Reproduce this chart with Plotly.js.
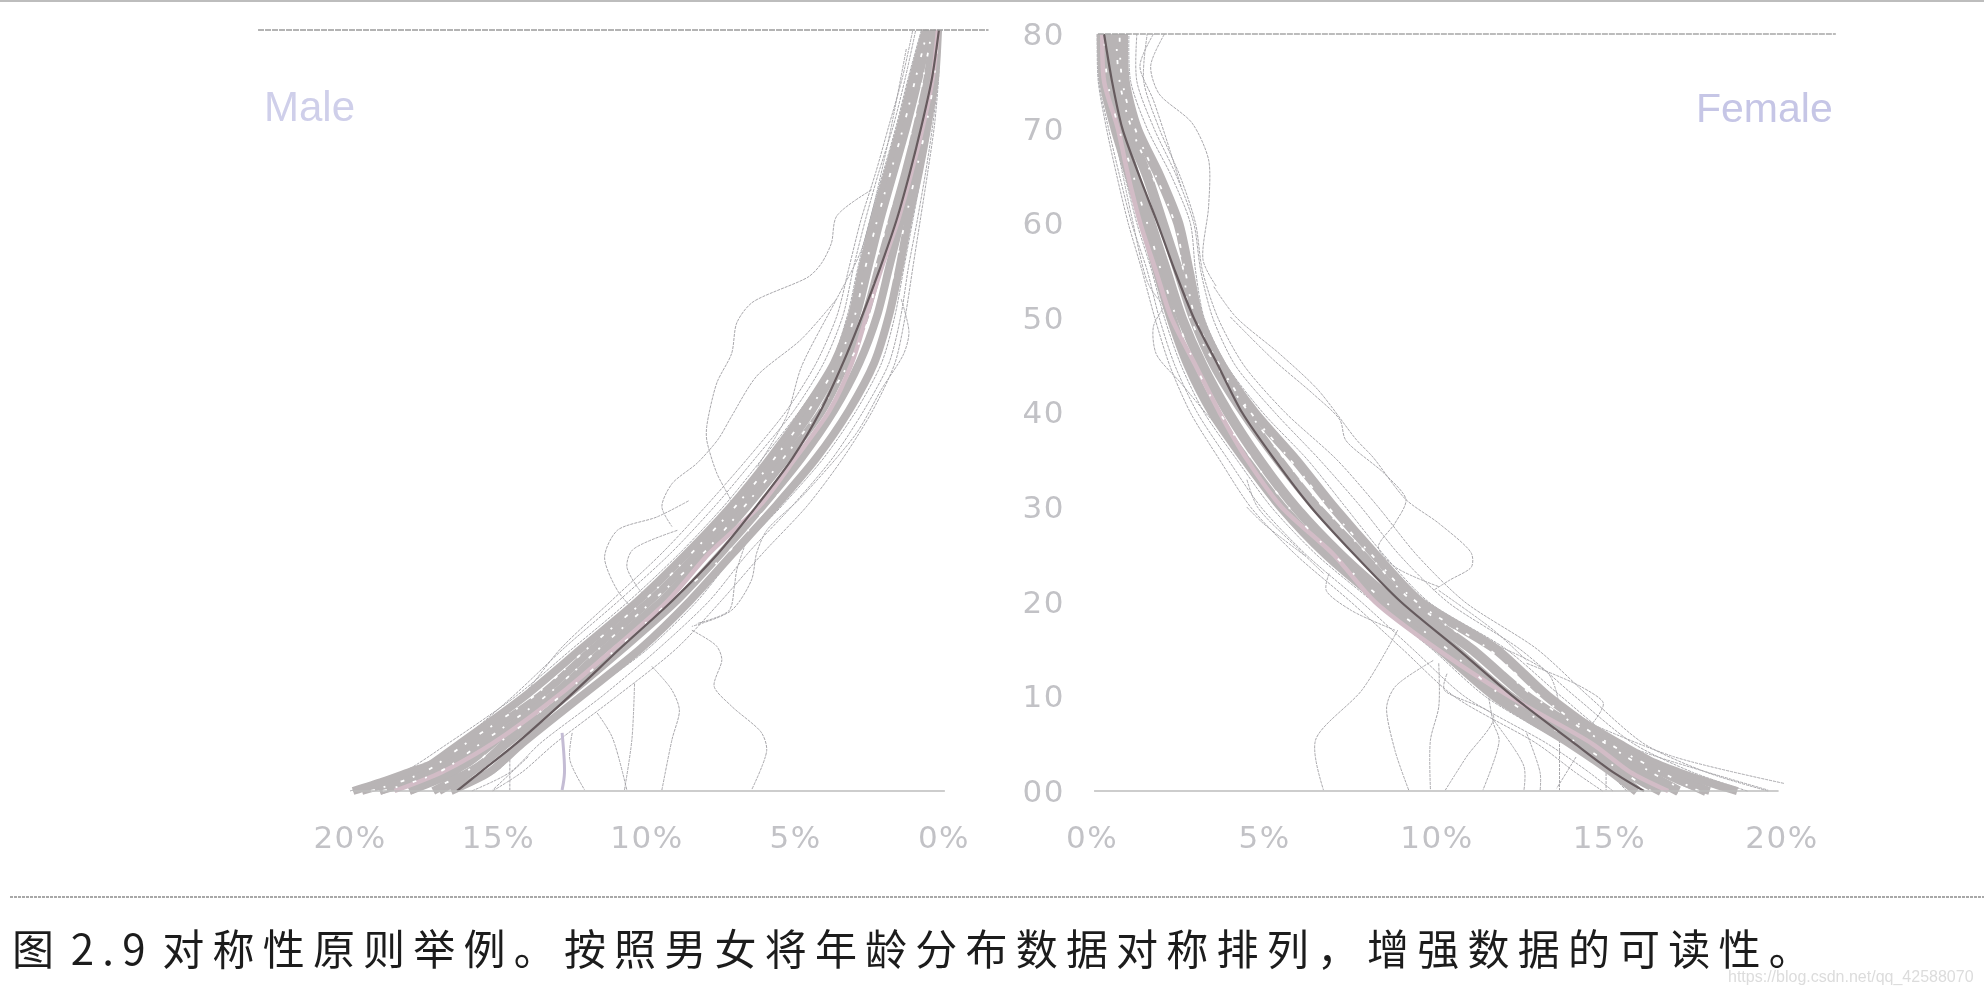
<!DOCTYPE html>
<html>
<head>
<meta charset="utf-8">
<script src="https://cdn.plot.ly/plotly-3.0.1.min.js"></script>
<style>
html,body{margin:0;padding:0;background:#fff;overflow:hidden}
#chart{width:1984px;height:994px;filter:blur(0.6px)}
#chart .xtick text,#chart .x2tick text,#chart .y2tick text{letter-spacing:1.5px}
#chart g.annotation[data-index="2"] text{letter-spacing:8.2px;word-spacing:-9px}
</style>
</head>
<body>
<div id="chart"></div>
<script>
// ---------- shared tick text ----------
const X_TICK_VALUES = [0,5,10,15,20];
const X_TICK_LABELS = ['0%','5%','10%','15%','20%'];
const AGE_TICK_VALUES = [0,10,20,30,40,50,60,70,80];
const AGE_TICK_LABELS = ['00','10','20','30','40','50','60','70','80'];
const CAPTION = '图 2.9 对称性原则举例。按照男女将年龄分布数据对称排列，增强数据的可读性。';
const WATERMARK = 'https://blog.csdn.net/qq_42588070';

// ---------- age grid for the dense band ----------
const AGES = [0,2,5,10,15,20,25,30,35,40,45,50,55,60,65,70,75,80];
const TAIL_AGES = [0,1,2,3,5,8];

// ---------- male ----------
const M_CENTER = [16.4,15.6,14.4,12.6,10.9,9.15,7.6,6.3,5.1,4.15,3.4,2.75,2.15,1.6,1.15,.75,.4,.17];
const M_LEFT   = [20,18.2,16.7,14.4,12.5,10.6,8.9,7.4,6.1,4.85,3.8,3.25,2.9,2.5,2.05,1.6,1.2,.76];
const M_RIGHT  = [16.4,15.1,14.1,12.1,9.95,8.3,7,5.45,4.05,2.95,2.1,1.65,1.35,1.05,.75,.45,.27,.18];
const M_FR1 = [19.3,17.9,16.4,14.5,12.8,10.95,9.2,7.7,6.35,5.05,4.05,3.4,3.05,2.65,2.2,1.7,1.3,.95];
const M_FR2 = [15.9,14.6,13.6,11.5,9.6,7.9,6.6,5.1,3.75,2.7,1.85,1.45,1.2,.9,.62,.38,.2,.15];
const M_FR3 = [15.2,14.2,13.1,11,9,7.5,6.1,4.6,3.4,2.4,1.65,1.3,1.05,.8,.55,.32,.18,.12];
const M_FR4 = [18.6,17.2,16,14.2,12.9,11.2,9.5,8,6.6,5.3,4.3,3.6,3.2,2.8,2.3,1.85,1.4,1.05];
const M_BAND_A = [19.6,17.7,16.3,14.1,12.2,10.3,8.65,7.15,5.85,4.7,3.7,3.1,2.75,2.35,1.9,1.45,1.05,.62];
const M_BAND_B = [19,17.2,15.9,13.6,11.8,9.9,8.3,6.9,5.6,4.45,3.55,2.95,2.55,2.15,1.7,1.25,.85,.5];
const M_BAND_C = [18,16.5,15.4,13.2,11.4,9.5,8,6.6,5.3,4.1,3.3,2.65,2.2,1.75,1.3,.9,.55,.35];
const M_BAND_D = [17,15.9,14.7,12.7,10.8,9,7.5,6.1,4.8,3.7,2.85,2.25,1.85,1.45,1.05,.7,.4,.22];
const M_BAND_E = [16.6,15.3,14.2,12.2,10.2,8.55,7.1,5.65,4.3,3.2,2.35,1.85,1.5,1.2,.85,.55,.3,.2];
const M_PINK   = [18.5,16.9,15.2,13,11.1,9.3,7.9,6.2,5,3.85,3.1,2.6,2.1,1.55,1.1,.7,.38,.2];
const M_SPECK  = [18.9,17,15.6,13.4,11.6,9.8,8.1,6.7,5.4,4.2,3.2,2.5,2.3,1.9,1.5,1.05,.7,.4];
const M_SPECK2 = [17.4,16.1,15,12.9,11,9.2,7.3,5.9,4.55,3.45,2.6,2.05,1.65,1.3,.95,.6,.33,.2];
const M_SPECK3 = [19.3,17.5,16.1,13.8,12,10.1,8.5,7,5.7,4.55,3.6,3,2.65,2.25,1.8,1.35,.95,.55];
const M_TAIL_1 = [19.9,18.9,18,17.1,16.1,14.9];
const M_TAIL_2 = [19,18.2,17.3,16.6,15.7,14.6];
const M_TAIL_3 = [18,17.3,16.6,16,15.2,14.1];
const M_TAIL_4 = [17.2,16.6,16,15.5,14.8,13.7];

const M_O1_X = [2.44,3.62,3.79,4.12,4.54,6.48,6.98,7.15,7.65,7.99,7.99,7.65,7.23,6.8];
const M_O1_Y = [63.2,60.4,57.6,55.5,54.1,51.3,49.2,46,42.9,38.3,36.9,33.4,30.9,28.1];
const M_O2_X = [3.62,4.8,6.31,7.15,7.6,8.3,9.16,9.5,9.16];
const M_O2_Y = [51.7,47.5,43.6,39.4,37,34.5,32.3,29.9,27.8];
const M_O3_X = [8.6,9.67,11,11.43,11,10.34];
const M_O3_Y = [30.5,28.8,27.4,24.6,21.1,18.7];
const M_O4_X = [8.98,10.5,10.68,10.34,9.84];
const M_O4_Y = [27.4,25.3,23.6,21.5,19.7];
const M_O5_X = [1.44,1.18,1.35,2.11,2.95,4.8,5.97,6.31,6.48,7.15,8.49];
const M_O5_Y = [51.7,48.2,46,42.2,37.6,30.9,27.4,25,22.2,19,17.3];
const M_O6_X = [6.64,6.98,7.06,7.23,8.32];
const M_O6_Y = [26.4,23.2,21.5,19,17.6];
const M_O7_X = [8.49,7.65,7.48,7.74,7.15,6.14,5.97,6.48];
const M_O7_Y = [16.9,15.2,13.8,11,8.9,6.1,4.3,.1];
const M_O8_X = [9.84,9.16,8.91,9.16,9.5];
const M_O8_Y = [13.1,10.6,8.5,5.4,.1];
const M_O9_X = [10.42,10.51,10.76];
const M_O9_Y = [11.3,5.4,.1];
const M_O10_X = [11.68,11.18,10.68];
const M_O10_Y = [8.2,5.7,.1];
const M_O11_X = [12.86,12.78,12.86];
const M_O11_Y = [6.1,1.9,.1];
const M_O12_X = [12.52,12.6,12.1];
const M_O12_Y = [6.1,3.3,.1];
const M_O13_X = [14.62,14.62];
const M_O13_Y = [3.3,.1];
const M_O14_X = [14,15.2];
const M_O14_Y = [3.6,.1];
const M_O15_X = [1.27,1.94,2.78,3.62,4.8,5.3,6.3];
const M_O15_Y = [78,67.4,56.9,51.7,44.6,39.4,34];

// ---------- female ----------
const F_CENTER = [16,15.1,14,12.2,10.6,8.95,7.6,6.35,5.3,4.35,3.65,2.95,2.4,1.9,1.37,.88,.58,.35];
const F_LEFT   = [15.5,14.95,13.7,11.4,9.85,8.15,6.5,5.2,4.2,3.25,2.58,2.1,1.73,1.3,.95,.58,.25,.2];
const F_RIGHT  = [18.5,17,15.3,13.6,12,9.75,8.45,7.35,6.25,4.95,3.9,3.25,3,2.85,2.3,1.6,1.12,1.07];
const F_FR1 = [15.1,14.4,13.2,10.8,9.3,7.8,6.2,4.9,3.95,3.05,2.4,1.95,1.6,1.15,.8,.48,.2,.18];
const F_FR2 = [19,17.4,15.7,14,12.4,10.3,8.9,7.8,6.6,5.3,4.15,3.5,3.15,2.95,2.45,1.8,1.3,1.3];
const F_FR3 = [19.6,17.8,16,14.4,12.9,10.8,9.4,8.3,7.1,5.6,4.4,3.65,3.2,3,2.55,1.95,1.5,1.6];
const F_FR4 = [14.8,14,12.9,10.5,9,7.5,5.9,4.6,3.7,2.85,2.25,1.82,1.45,1.05,.72,.42,.18,.15];
const F_BAND_A = [15.8,15.1,13.9,11.7,10.1,8.4,6.8,5.5,4.45,3.5,2.8,2.3,1.9,1.5,1.1,.68,.35,.28];
const F_BAND_B = [16.5,15.5,14.3,12.1,10.5,8.75,7.2,5.9,4.85,3.95,3.2,2.6,2.15,1.7,1.25,.82,.5,.4];
const F_BAND_C = [17,16,14.7,12.6,11,9.1,7.8,6.5,5.4,4.4,3.55,2.95,2.5,2.05,1.6,1.05,.75,.65];
const F_BAND_D = [17.8,16.6,15.1,13.2,11.7,9.5,8.2,7,5.9,4.7,3.75,3.1,2.8,2.5,1.95,1.3,.95,.9];
const F_PINK   = [16.7,15.6,14.5,12.1,10,8.2,7,5.5,4.5,3.7,3,2.3,1.85,1.4,1.05,.75,.35,.3];
const F_SPECK  = [17.2,16.2,14.9,12.8,11.3,9.3,8,6.7,5.6,4.55,3.6,2.85,2.65,2.3,1.75,1.15,.8,.7];
const F_SPECK2 = [16.2,15.4,14.1,11.9,10.3,8.5,7,5.7,4.65,3.7,3,2.45,2,1.6,1.2,.78,.45,.35];
const F_SPECK3 = [17.6,16.5,15,13,11.5,9.4,8.1,6.85,5.75,4.6,3.7,3,2.7,2.4,1.85,1.25,.88,.8];
const F_TAIL_1 = [18.7,17.8,17,16.3,15.3,13.9];
const F_TAIL_2 = [17.9,17.1,16.5,15.8,15,13.7];
const F_TAIL_3 = [17,16.4,15.9,15.4,14.6,13.5];

const F_R1_X = [2.1,1.7,1.94,2.9,3.38,3.38,3.22,3.61];
const F_R1_Y = [80,76.6,73.7,70.6,66.7,61.8,56.1,53.3];
const F_R2_X = [1.78,1.39,1.78,2.26,2.58];
const F_R2_Y = [80,76.6,73,67.7,63.9];
const F_R3_X = [3.53,4.17,5.44,6.55,7.67,8.14,9.1,10.05,11,11,10.37,9.89];
const F_R3_Y = [53.3,50.1,46.2,42.4,37.1,35.3,30.8,28.3,25.1,23.7,22.3,21.2];
const F_R4_X = [4.01,5.28,6.4,7.19,7.35,8.46,9.1,8.78,8.3,8.78,10.05];
const F_R4_Y = [50.1,45.5,42,39.2,37.1,33.6,30.8,28.3,25.8,23.7,21.6];
const F_R5_X = [2.1,1.78,1.86,2.58,3.38,4.01];
const F_R5_Y = [51.2,49.1,46.2,43.1,39.6,37.1];
const F_R6_X = [4.49,4.8,5.92,6.71];
const F_R6_Y = [32.9,30,25.8,23];
const F_R7_X = [6.87,6.79,7.51,8.78];
const F_R7_Y = [23,21.2,19.1,17];
const F_R8_X = [8.86,7.83,6.48,6.71];
const F_R8_Y = [17,10.7,5.4,.1];
const F_R9_X = [9.89,8.78,8.54,8.78,9.18];
const F_R9_Y = [13.8,11,8.9,4.3,.1];
const F_R10_X = [10.05,10.05,9.81,9.81];
const F_R10_Y = [13.5,8.9,5.4,.1];
const F_R11_X = [10.29,10.21,11.64,10.85,10.24];
const F_R11_Y = [12.4,10.7,7.9,3.6,.1];
const F_R12_X = [11.48,11.64,11.8,11.33];
const F_R12_Y = [10.3,7.1,5.4,.1];
const F_R13_X = [11.64,12.52,12.52];
const F_R13_Y = [7.5,2.6,.1];
const F_R14_X = [12.6,12.99,12.99];
const F_R14_Y = [6.1,1.9,.1];
const F_R15_X = [13.55,13.55];
const F_R15_Y = [5.4,.1];
const F_R16_X = [14.03,13.47];
const F_R16_Y = [3.6,.3];
const F_R17_X = [14.9,14.9];
const F_R17_Y = [1.9,.1];
const F_R18_X = [12.6,14.19,14.82,14.58,14.19];
const F_R18_Y = [13.5,11,9.3,7.5,6.1];
const F_R19_X = [14.66,16.89,20.07];
const F_R19_Y = [6.8,3.6,.8];
const F_R20_X = [14.5,16.4,19.6];
const F_R20_Y = [6.1,3.6,.1];
const F_R21_X = [11.33,13.23,13.55];
const F_R21_Y = [16,12.4,8.9];
const F_R22_X = [10.05,11.64,12.6];
const F_R22_Y = [21.2,17,13.8];
const F_R23_X = [.75,1.15,1.63,2.1];
const F_R23_Y = [67.7,60.7,53.6,51.2];
const F_R24_X = [4.49,4.96,6.2];
const F_R24_Y = [30,28.3,24.8];

// ---------- rules ----------
const M_TOP_RULE = [23.1,-1.5], M_BASE_RULE = [19.9,-0.03];
const F_TOP_RULE = [0.17,21.56], F_BASE_RULE = [0.06,19.9];
const AGE_TOP = 80, AGE_BASE = 0;

// ---------- styles and helpers ----------
const THIN = {color:'#a9a8ac',width:1,dash:'3px,1px',shape:'spline',smoothing:0.8};
const line = (x,y,xa,ya,style) => ({type:'scatter',mode:'lines',x,y,xaxis:xa,yaxis:ya,line:style,hoverinfo:'skip',showlegend:false});
const thick = (w,c) => ({color:c||'#b8b4b5',width:w,shape:'spline',smoothing:0.8});

const traces = [];
function side(xa,ya,bandWidth,outliers,edges,bands,tails,pink,specks,center){
  outliers.forEach(o => traces.push(line(o[0],o[1],xa,ya,THIN)));
  edges.forEach(e => traces.push(line(e,AGES,xa,ya,THIN)));
  bands.forEach(b => traces.push(line(b,AGES,xa,ya,thick(bandWidth))));
  tails.forEach(t => traces.push(line(t,TAIL_AGES,xa,ya,thick(8))));
  traces.push(line(pink,AGES,xa,ya,thick(4.5,'#d2bcc6')));
  specks.forEach((s,i) => traces.push(line(s,AGES,xa,ya,{color:'#ffffff',width:1.8,dash:i===1?'2px,17px,4px,23px':'4px,9px,2px,16px',shape:'spline'})));
  traces.push(line(center,AGES,xa,ya,thick(2.2,'#665b5e')));
}
side('x','y',8,[
  [M_O1_X,M_O1_Y],[M_O2_X,M_O2_Y],[M_O3_X,M_O3_Y],[M_O4_X,M_O4_Y],[M_O5_X,M_O5_Y],
  [M_O6_X,M_O6_Y],[M_O7_X,M_O7_Y],[M_O8_X,M_O8_Y],[M_O9_X,M_O9_Y],[M_O10_X,M_O10_Y],
  [M_O12_X,M_O12_Y],[M_O13_X,M_O13_Y],[M_O14_X,M_O14_Y],[M_O15_X,M_O15_Y]
],[M_LEFT,M_RIGHT,M_FR1,M_FR2,M_FR3,M_FR4],[M_BAND_A,M_BAND_B,M_BAND_C,M_BAND_D,M_BAND_E],[M_TAIL_1,M_TAIL_2,M_TAIL_3,M_TAIL_4],M_PINK,[M_SPECK,M_SPECK2,M_SPECK3],M_CENTER);
traces.push(line(M_O11_X,M_O11_Y,'x','y',{color:'#c4bcd4',width:3,shape:'spline'}));
side('x2','y2',10,[
  [F_R1_X,F_R1_Y],[F_R2_X,F_R2_Y],[F_R3_X,F_R3_Y],[F_R4_X,F_R4_Y],[F_R5_X,F_R5_Y],[F_R6_X,F_R6_Y],
  [F_R7_X,F_R7_Y],[F_R8_X,F_R8_Y],[F_R9_X,F_R9_Y],[F_R10_X,F_R10_Y],[F_R11_X,F_R11_Y],[F_R12_X,F_R12_Y],
  [F_R13_X,F_R13_Y],[F_R14_X,F_R14_Y],[F_R15_X,F_R15_Y],[F_R16_X,F_R16_Y],[F_R17_X,F_R17_Y],[F_R18_X,F_R18_Y],
  [F_R19_X,F_R19_Y],[F_R20_X,F_R20_Y],[F_R21_X,F_R21_Y],[F_R22_X,F_R22_Y],[F_R23_X,F_R23_Y],[F_R24_X,F_R24_Y]
],[F_LEFT,F_RIGHT,F_FR1,F_FR2,F_FR3,F_FR4],[F_BAND_A,F_BAND_B,F_BAND_C,F_BAND_D],[F_TAIL_1,F_TAIL_2,F_TAIL_3],F_PINK,[F_SPECK,F_SPECK2,F_SPECK3],F_CENTER);

const W = 1984, H = 994;
const tickFont = {family:'"DejaVu Sans",sans-serif',size:31,color:'#c2c2c6'};
const xBase = {showgrid:false,zeroline:false,showline:false,ticks:'',tickmode:'array',tickvals:X_TICK_VALUES,ticktext:X_TICK_LABELS,tickfont:tickFont,ticklabelstandoff:6,fixedrange:true};
const yDomain = [(H-810)/H,(H-10)/H];

const layout = {
  width:W,height:H,margin:{l:0,r:0,t:0,b:0,pad:0},
  paper_bgcolor:'#ffffff',plot_bgcolor:'rgba(0,0,0,0)',showlegend:false,
  xaxis:Object.assign({},xBase,{domain:[250/W,1000/W],range:[23.37,-1.886],anchor:'y'}),
  yaxis:{domain:yDomain,range:[-2,82.1],visible:false,fixedrange:true,anchor:'x'},
  xaxis2:Object.assign({},xBase,{domain:[1080/W,1850/W],range:[-0.348,21.97],anchor:'y2'}),
  yaxis2:{domain:yDomain,range:[-2,82.54],anchor:'x2',showgrid:false,zeroline:false,showline:false,ticks:'',
          tickmode:'array',tickvals:AGE_TICK_VALUES,ticktext:AGE_TICK_LABELS,tickfont:tickFont,ticklabelstandoff:14,fixedrange:true},
  shapes:[
    {type:'line',xref:'paper',yref:'paper',x0:0,x1:1,y0:(H-1)/H,y1:(H-1)/H,line:{color:'#bdbdbd',width:2}},
    {type:'line',xref:'paper',yref:'paper',x0:10/W,x1:1,y0:(H-897)/H,y1:(H-897)/H,line:{color:'#a8a8a8',width:2,dash:'3px,1px'}},
    {type:'line',xref:'x',yref:'y',x0:M_TOP_RULE[0],x1:M_TOP_RULE[1],y0:AGE_TOP,y1:AGE_TOP,line:{color:'#9a9a9a',width:1.5,dash:'6px,1px'}},
    {type:'line',xref:'x',yref:'y',x0:M_BASE_RULE[0],x1:M_BASE_RULE[1],y0:AGE_BASE,y1:AGE_BASE,line:{color:'#bcbcbc',width:1.6}},
    {type:'line',xref:'x2',yref:'y2',x0:F_TOP_RULE[0],x1:F_TOP_RULE[1],y0:AGE_TOP,y1:AGE_TOP,line:{color:'#a6a6a6',width:1.5,dash:'6px,1px'}},
    {type:'line',xref:'x2',yref:'y2',x0:F_BASE_RULE[0],x1:F_BASE_RULE[1],y0:AGE_BASE,y1:AGE_BASE,line:{color:'#bcbcbc',width:1.6}}
  ],
  annotations:[
    {text:'Male',xref:'paper',yref:'paper',x:262/W,y:(H-107)/H,xanchor:'left',yanchor:'middle',showarrow:false,
     font:{family:'"Liberation Sans",sans-serif',size:42,color:'#cfcfea'}},
    {text:'Female',xref:'paper',yref:'paper',x:1835/W,y:(H-108)/H,xanchor:'right',yanchor:'middle',showarrow:false,
     font:{family:'"Liberation Sans",sans-serif',size:41,color:'#c6c6e6'}},
    {text:CAPTION,xref:'paper',yref:'paper',x:10/W,y:(H-946)/H,xanchor:'left',yanchor:'middle',showarrow:false,
     align:'left',width:1900,font:{family:'"Noto Sans CJK SC",sans-serif',size:42,color:'#1c1c1c'}},
    {text:WATERMARK,xref:'paper',yref:'paper',x:1976/W,y:(H-977)/H,xanchor:'right',yanchor:'middle',showarrow:false,
     font:{family:'"Liberation Sans",sans-serif',size:16,color:'#dcdcdc'}}
  ]
};
Plotly.newPlot('chart',traces,layout,{displayModeBar:false,staticPlot:true});
</script>
</body>
</html>
